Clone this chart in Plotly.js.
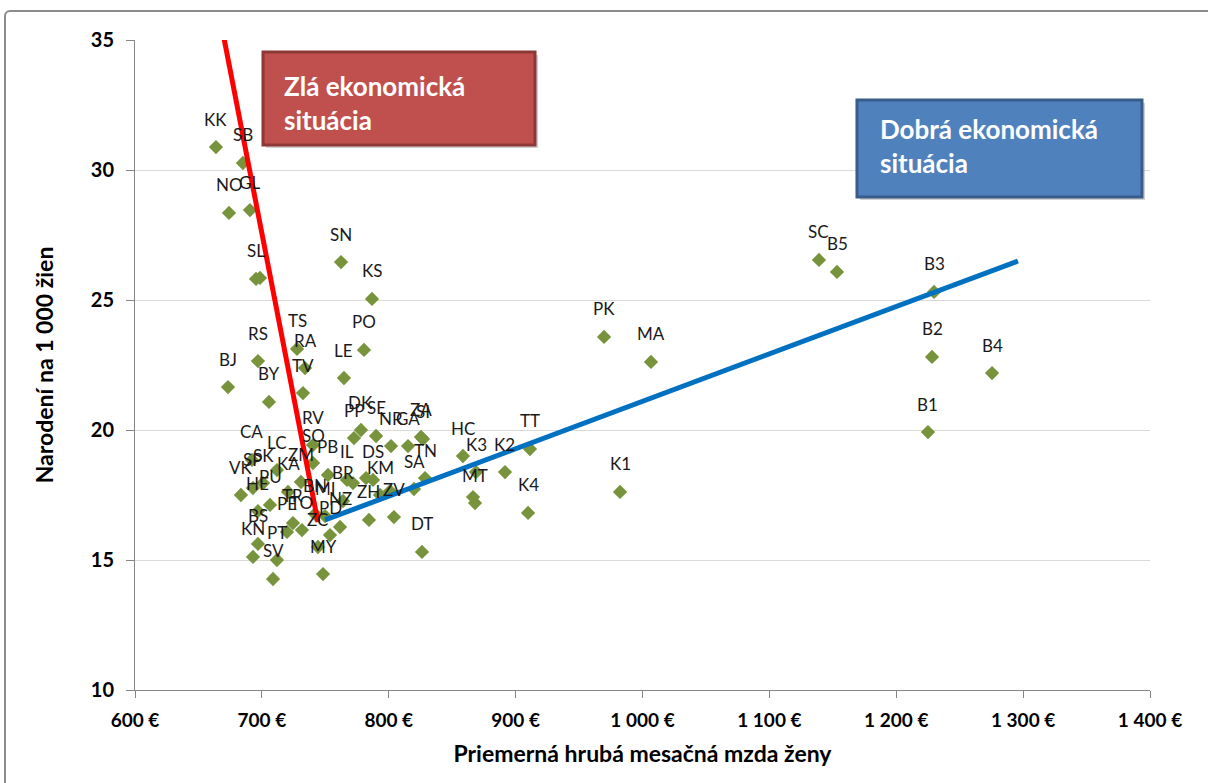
<!DOCTYPE html>
<html>
<head>
<meta charset="utf-8">
<script src="https://cdn.plot.ly/plotly-3.0.1.min.js"></script>
<style>
  html, body { margin: 0; padding: 0; background: #ffffff; }
  #frame { position: absolute; left: 4px; top: 10px; width: 1220px; height: 800px; border: 2px solid #8c8c8c; border-radius: 6px; box-sizing: border-box; }
  #chart { position: absolute; left: 0; top: 0; width: 1208px; height: 783px; }
</style>
</head>
<body>
<div id="frame"></div>
<div id="chart"></div>
<script>
// District codes (labels)
const districts = [
  "KK","SB","NO","GL","SL","","SN","KS","PO","LE","TS","RA","TV","RS","BJ","BY",
  "PK","MA","SC","B5","B3","B2","B4","B1",
  "RV","CA","LC","SO","PB","ZM","SK","SP","VK","KA","PU","HE",
  "BS","KN","PT","SV","MY","ZC","PD","PE","TR","TO","BN","MI","NZ","ZH","ZV","DT",
  "IL","DS","BR","KM","SA","TN",
  "HC","K3","MT","K2","TT","K4","K1",
  "DK","PP","SE","NR","GA","ZA","SI",
  "","","",""
];
// Average gross monthly wage of women (EUR)
const wage = [
  663.8,685.1,674.1,690.6,695.4,698.5,762.4,786.8,780.5,764.7,727.7,734.0,732.4,696.9,673.3,705.6,
  969.7,1006.7,1139.1,1153.3,1229.8,1228.2,1275.5,1225.0,
  740.3,692.2,711.9,740.3,752.1,730.8,700.9,693.0,683.5,720.6,706.4,696.9,
  696.9,693.0,711.9,708.8,748.2,744.2,753.7,719.8,724.5,731.6,741.9,749.8,761.6,784.4,804.1,826.2,
  767.1,787.6,763.9,793.1,819.9,828.6,
  858.5,868.8,868.0,891.6,911.3,909.8,982.3,
  778.1,772.6,790.0,801.8,815.2,825.4,827.0,
  866.4,771.8,782.1,801.0
];
// Births per 1 000 women
const births = [
  30.88,30.27,28.35,28.46,25.81,25.85,26.46,25.04,23.08,22.00,23.12,22.38,21.42,22.65,21.65,21.08,
  23.58,22.62,26.54,26.08,25.31,22.81,22.19,19.92,
  19.42,18.85,18.46,18.73,18.27,18.00,17.96,17.77,17.50,17.62,17.12,16.88,
  15.62,15.12,15.00,14.27,14.46,15.50,15.96,16.08,16.42,16.15,16.77,16.69,16.27,16.54,16.65,15.31,
  18.08,18.08,17.27,17.50,17.73,18.15,
  19.00,18.38,17.19,18.38,19.27,16.81,17.62,
  20.00,19.69,19.77,19.38,19.38,19.73,19.65,
  17.42,17.96,18.15,17.65
];
// Hand-drawn trend lines
const redLineX = [670.1, 744.2];
const redLineY = [35.08, 16.46];
const blueLineX = [749.8, 1295.9];
const blueLineY = [16.54, 26.50];

// Axis ticks
const xTickVals = [600,700,800,900,1000,1100,1200,1300,1400];
const xTickText = ["600 €","700 €","800 €","900 €","1 000 €","1 100 €","1 200 €","1 300 €","1 400 €"];
const yTickVals = [10,15,20,25,30,35];

const boxRedText = "Zlá ekonomická<br>situácia";
const boxBlueText = "Dobrá ekonomická<br>situácia";

const FONT = "Lato, 'Open Sans', sans-serif";

const traces = [
  {
    type: "scatter", mode: "markers",
    x: wage, y: births,
    marker: { symbol: "diamond", size: 11, color: "#77933C" },
    hoverinfo: "skip", cliponaxis: false
  },
  {
    type: "scatter", mode: "lines",
    x: redLineX, y: redLineY,
    line: { color: "#FF0000", width: 5 }, cliponaxis: false, hoverinfo: "skip"
  },
  {
    type: "scatter", mode: "lines",
    x: blueLineX, y: blueLineY,
    line: { color: "#0070C0", width: 5 }, cliponaxis: false, hoverinfo: "skip"
  }
];

const annotations = districts.map((d, i) => ({
  x: wage[i], y: births[i], text: d, showarrow: false,
  yshift: 28, xanchor: "center", yanchor: "middle",
  font: { family: FONT, size: 17, color: "#1a1a1a" }
})).filter(a => a.text !== "");

annotations.push({
  xref: "paper", yref: "paper", x: 0.1448, y: 0.9031,
  xanchor: "left", yanchor: "middle", align: "left", showarrow: false,
  text: "<b>" + boxRedText.replace("<br>", "</b><br><b>") + "</b>",
  font: { family: FONT, size: 26, color: "#ffffff" }
});
annotations.push({
  xref: "paper", yref: "paper", x: 0.732, y: 0.8362,
  xanchor: "left", yanchor: "middle", align: "left", showarrow: false,
  text: "<b>" + boxBlueText.replace("<br>", "</b><br><b>") + "</b>",
  font: { family: FONT, size: 26, color: "#ffffff" }
});

const shapes = [
  { type: "rect", xref: "paper", yref: "paper", x0: 0.1291, x1: 0.3971, y0: 0.8340, y1: 0.9770,
    fillcolor: "rgba(0,0,0,0.18)", line: { width: 0 }, layer: "above" },
  { type: "rect", xref: "paper", yref: "paper", x0: 0.1261, x1: 0.3941, y0: 0.8385, y1: 0.9815,
    fillcolor: "#C0504D", line: { color: "#8C3836", width: 3 }, layer: "above" },
  { type: "rect", xref: "paper", yref: "paper", x0: 0.7143, x1: 0.9951, y0: 0.7540, y1: 0.9032,
    fillcolor: "rgba(0,0,0,0.18)", line: { width: 0 }, layer: "above" },
  { type: "rect", xref: "paper", yref: "paper", x0: 0.7113, x1: 0.9921, y0: 0.7585, y1: 0.9077,
    fillcolor: "#4F81BD", line: { color: "#385D8A", width: 3 }, layer: "above" }
];

const layout = {
  width: 1208, height: 783,
  margin: { l: 135, r: 58, t: 40, b: 93 },
  paper_bgcolor: "rgba(0,0,0,0)", plot_bgcolor: "rgba(0,0,0,0)",
  showlegend: false,
  font: { family: FONT, color: "#000000" },
  xaxis: {
    range: [600, 1400], tickvals: xTickVals, ticktext: xTickText,
    showgrid: false, zeroline: false,
    showline: true, linecolor: "#868686", linewidth: 1,
    ticks: "outside", ticklen: 7, tickcolor: "#868686", ticklabelstandoff: 6,
    tickfont: { family: FONT, size: 19, color: "#000000", weight: "bold" },
    title: { text: "<b>Priemerná hrubá mesačná mzda ženy</b>", font: { family: FONT, size: 23, color: "#000" }, standoff: 16 }
  },
  yaxis: {
    range: [10, 35], tickvals: yTickVals,
    showgrid: true, gridcolor: "#D9D9D9", gridwidth: 1, zeroline: false,
    showline: true, linecolor: "#868686", linewidth: 1,
    ticks: "outside", ticklen: 8, tickcolor: "#868686", ticklabelstandoff: 8,
    tickfont: { family: FONT, size: 20, color: "#000000", weight: "bold" },
    title: { text: "<b>Narodení na 1 000 žien</b>", font: { family: FONT, size: 23, color: "#000" }, standoff: 30 }
  },
  annotations: annotations,
  shapes: shapes
};

Plotly.newPlot("chart", traces, layout, { displayModeBar: false, staticPlot: true });
</script>
</body>
</html>
